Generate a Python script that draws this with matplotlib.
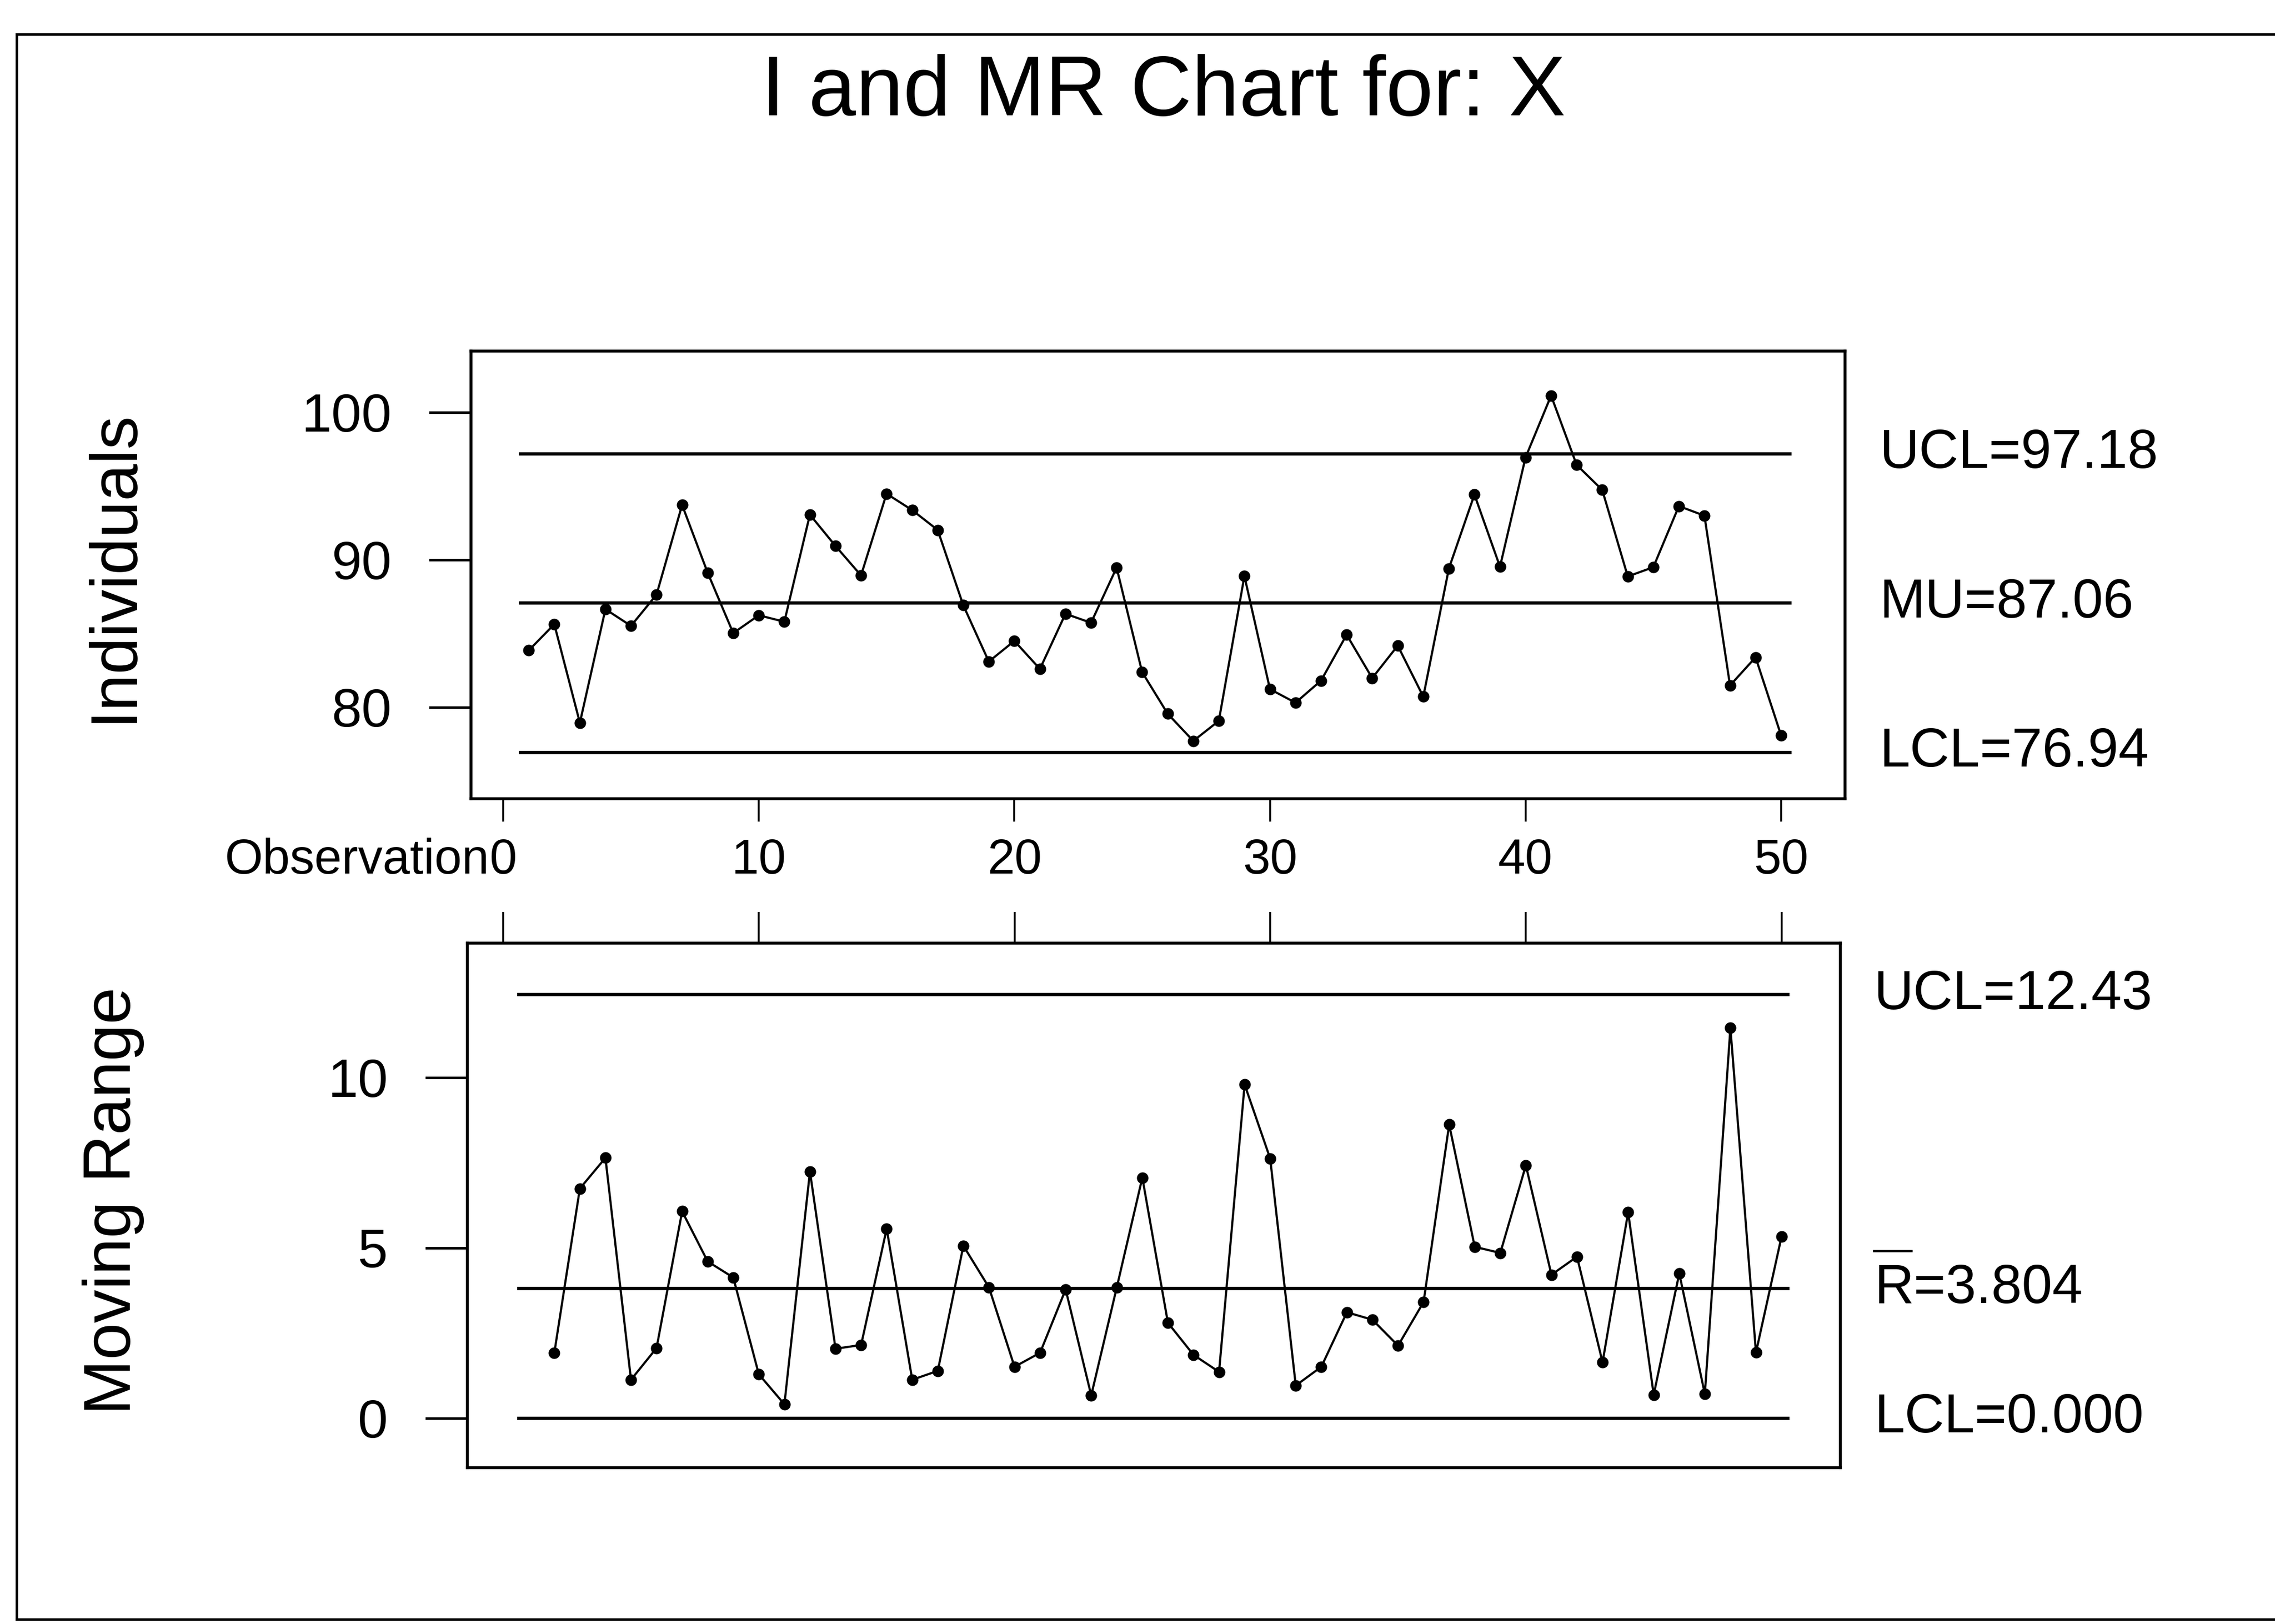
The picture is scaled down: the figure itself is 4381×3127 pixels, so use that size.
import numpy as np
import matplotlib
matplotlib.use("Agg")
import matplotlib.pyplot as plt
from matplotlib.lines import Line2D

plt.rcParams['font.family'] = ['Liberation Sans', 'DejaVu Sans']

# ---------------- data ----------------
observations = list(range(1, 51))
individuals = [83.86, 85.63, 78.95, 86.65, 85.52, 87.64, 93.72, 89.12, 85.03, 86.24,
               85.80, 93.06, 90.94, 88.94, 94.48, 93.37, 92.02, 86.92, 83.10, 84.50,
               82.60, 86.34, 85.73, 89.47, 82.38, 79.56, 77.72, 79.08, 88.90, 81.23,
               80.31, 81.81, 84.92, 81.98, 84.18, 80.72, 89.41, 94.42, 89.53, 96.94,
               101.13, 96.43, 94.74, 88.87, 89.50, 93.64, 92.99, 81.48, 83.39, 78.09]
mr_observations = list(range(2, 51))
moving_range = [1.91, 6.74, 7.64, 1.13, 2.06, 6.07, 4.60, 4.13, 1.29,
                0.41, 7.24, 2.04, 2.15, 5.56, 1.13, 1.39, 5.06, 3.84, 1.51,
                1.92, 3.78, 0.67, 3.84, 7.06, 2.80, 1.86, 1.36, 9.79, 7.62,
                0.96, 1.51, 3.11, 2.89, 2.13, 3.41, 8.62, 5.03, 4.85, 7.42,
                4.21, 4.74, 1.64, 6.04, 0.69, 4.25, 0.71, 11.45, 1.93, 5.33]

i_limits = [97.18, 87.06, 76.94]
i_limit_labels = ["UCL=97.18", "MU=87.06", "LCL=76.94"]
mr_limits = [12.43, 3.804, 0.0]
mr_limit_labels = ["UCL=12.43", "R=3.804", "LCL=0.000"]

x_ticks = [0, 10, 20, 30, 40, 50]
i_ticks = [80, 90, 100]
mr_ticks = [0, 5, 10]

title = "I and MR Chart for: X"

# ---------------- layout ----------------
W, H = 4381, 3127
fig = plt.figure(figsize=(W / 100, H / 100), dpi=100)
fig.patch.set_facecolor('white')


def ax_rect(left, top, right, bottom):
    return [left / W, 1 - bottom / H, (right - left) / W, (bottom - top) / H]


ax1 = fig.add_axes(ax_rect(907, 676, 3553, 1538))
ax2 = fig.add_axes(ax_rect(900, 1816, 3544, 2826))

lw_spine = 4.0
lw_ctrl = 4.6
lw_data = 3.0
ms = 15

for ax in (ax1, ax2):
    for s in ax.spines.values():
        s.set_linewidth(lw_spine)
        s.set_color('black')

# Individuals chart
ax1.set_xlim(-1.26, 52.5)
ax1.set_ylim(73.8, 104.15)
for val in i_limits:
    ax1.plot([0.6, 50.4], [val, val], color='black', lw=lw_ctrl, solid_capstyle='butt')
ax1.plot(observations, individuals, color='black', lw=lw_data, marker='o',
         markersize=ms, markerfacecolor='black', markeredgecolor='black')
ax1.set_yticks(i_ticks)
ax1.set_yticklabels([str(t) for t in i_ticks], fontsize=75)
ax1.set_xticks(x_ticks)
ax1.set_xticklabels([str(t) for t in x_ticks], fontsize=68)
ax1.tick_params(axis='y', direction='out', length=58, width=3.5, pad=52)
ax1.tick_params(axis='x', direction='out', length=32, width=2.6, pad=22)
ax1.annotate("Observation", xy=(0, 0), xycoords=('data', 'axes fraction'),
             xytext=(-19, -54), textcoords='offset points',
             ha='right', va='top', fontsize=68)

# Moving range chart
ax2.set_xlim(-1.40, 52.3)
ax2.set_ylim(-1.45, 13.94)
for val in mr_limits:
    ax2.plot([0.55, 50.3], [val, val], color='black', lw=lw_ctrl, solid_capstyle='butt')
ax2.plot(mr_observations, moving_range, color='black', lw=lw_data, marker='o',
         markersize=ms, markerfacecolor='black', markeredgecolor='black')
ax2.set_yticks(mr_ticks)
ax2.set_yticklabels([str(t) for t in mr_ticks], fontsize=75)
ax2.set_xticks(x_ticks)
ax2.tick_params(axis='x', which='both', top=True, bottom=False, labeltop=False,
                labelbottom=False, direction='out', length=43, width=2.6)
ax2.tick_params(axis='y', direction='out', length=58, width=3.5, pad=52)

# Limit labels on the right
for val, lab in zip(i_limits, i_limit_labels):
    ax1.annotate(lab, xy=(1, val), xycoords=('axes fraction', 'data'),
                 xytext=(48, 0), textcoords='offset points',
                 ha='left', va='center', fontsize=76)
for val, lab in zip(mr_limits, mr_limit_labels):
    ax2.annotate(lab, xy=(1, val), xycoords=('axes fraction', 'data'),
                 xytext=(47, 0), textcoords='offset points',
                 ha='left', va='center', fontsize=76)

# overbar for R
fig.canvas.draw()
ybar_px = ax2.transData.transform((0, mr_limits[1]))[1]
x0_px = ax2.transAxes.transform((1, 0))[0] + 47 * 100 / 72
bar_y = (ybar_px + 72) / H
fig.add_artist(Line2D([x0_px / W, (x0_px + 72) / W], [bar_y, bar_y],
                      transform=fig.transFigure, color='black', lw=3.2))

# Axis titles
fig.text(220 / W, 1 - 1090 / H, "Individuals", rotation=90, ha='center', va='center',
         fontsize=92)
fig.text(218 / W, 1 - 2312 / H, "Moving Range", rotation=90, ha='center', va='center',
         fontsize=92)

# Title
fig.text(2240 / W, 1 - 222 / H, title, ha='center', va='baseline', fontsize=118)

# Outer frame (left, top, bottom)
fl, ft, fb = 32 / W, 1 - 66 / H, 1 - 3118 / H
fig.add_artist(Line2D([fl, fl], [fb, ft], transform=fig.transFigure, color='black', lw=3.5))
fig.add_artist(Line2D([fl, 1.01], [ft, ft], transform=fig.transFigure, color='black', lw=3.5))
fig.add_artist(Line2D([fl, 1.01], [fb, fb], transform=fig.transFigure, color='black', lw=3.5))

fig.savefig("out.png", dpi=100, facecolor='white')
